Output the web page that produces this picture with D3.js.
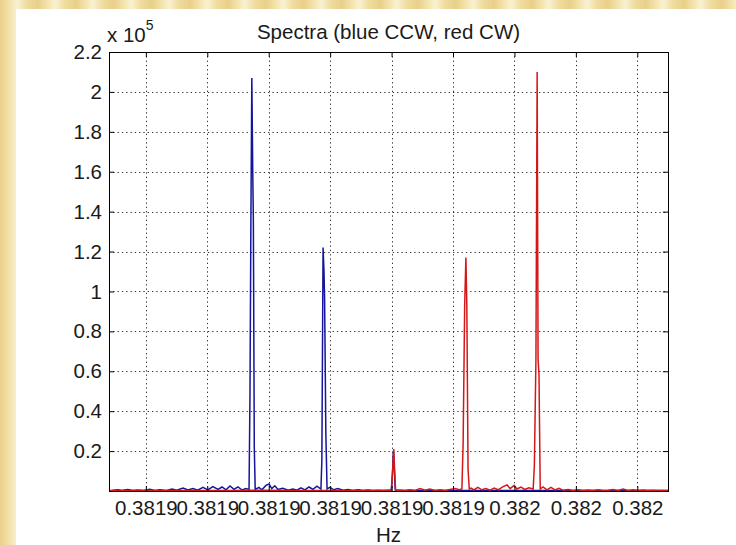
<!DOCTYPE html>
<html>
<head>
<meta charset="utf-8">
<script src="https://cdn.jsdelivr.net/npm/d3@7"></script>
<style>
  html, body { margin: 0; padding: 0; }
  body {
    width: 736px; height: 545px; overflow: hidden;
    background: repeating-linear-gradient(90deg, #e9cf8a 0px, #f2e2aa 9px, #faf1d2 17px, #f0dc9f 27px, #e9cf8a 38px);
  }
  svg { position: absolute; left: 0; top: 0; }
</style>
</head>
<body>
<div id="chart"></div>
<script>
// Spectrum plot: CCW (blue) and CW (red) components

const titleText = "Spectra (blue CCW, red CW)";
const xAxisLabel = "Hz";
const yExponent = 5;

// frequencies are offsets in µHz from 0.38194 Hz
const xDomain = [-2.2, 16.0];
const xTickOffsets = [-1, 1, 3, 5, 7, 9, 11, 13, 15];
const xTickLabels = ["0.3819", "0.3819", "0.3819", "0.3819", "0.3819", "0.3819", "0.382", "0.382", "0.382"];

// magnitudes in units of 1e5
const yDomain = [0, 2.2];
const yTicks = [0.2, 0.4, 0.6, 0.8, 1.0, 1.2, 1.4, 1.6, 1.8, 2.0, 2.2];
const yTickLabels = ["0.2", "0.4", "0.6", "0.8", "1", "1.2", "1.4", "1.6", "1.8", "2", "2.2"];

const blueCCW = [
  [-2.11, 0.003], [-1.91, 0.006], [-1.78, 0.002], [-1.59, 0.008], [-1.42, 0.003], [-1.26, 0.005],
  [-1.07, 0.002], [-0.87, 0.009], [-0.71, 0.003], [-0.54, 0.006], [-0.35, 0.002], [-0.15, 0.010],
  [0.01, 0.004], [0.21, 0.015], [0.37, 0.005], [0.53, 0.012], [0.69, 0.004], [0.86, 0.018],
  [1.02, 0.006], [1.18, 0.022], [1.35, 0.008], [1.48, 0.020], [1.61, 0.006], [1.74, 0.025],
  [1.87, 0.008], [2.00, 0.021], [2.13, 0.005], [2.26, 0.012],
  [2.36, 0.008], [2.39, 0.48], [2.42, 1.36], [2.45, 2.07], [2.48, 1.60], [2.50, 1.36], [2.53, 0.22], [2.56, 0.008],
  [2.68, 0.018], [2.78, 0.006], [2.91, 0.028], [3.01, 0.035], [3.10, 0.012], [3.20, 0.026],
  [3.30, 0.008], [3.46, 0.014], [3.63, 0.004], [3.79, 0.010], [3.92, 0.004], [4.05, 0.016],
  [4.18, 0.006], [4.31, 0.020], [4.44, 0.008], [4.57, 0.024],
  [4.70, 0.010], [4.73, 0.15], [4.76, 0.96], [4.77, 1.22], [4.80, 1.10], [4.82, 0.96], [4.86, 0.29], [4.90, 0.010],
  [4.99, 0.018], [5.12, 0.006], [5.25, 0.012], [5.42, 0.004], [5.58, 0.008], [5.74, 0.003],
  [5.91, 0.006], [6.07, 0.002], [6.23, 0.005], [6.39, 0.002], [6.56, 0.004], [6.72, 0.002], [6.88, 0.004],
  [6.99, 0.005], [7.03, 0.09], [7.06, 0.20], [7.09, 0.11], [7.12, 0.005],
  [7.40, 0.002], [8.10, 0.003], [8.90, 0.002], [9.70, 0.002], [10.60, 0.003], [11.40, 0.002],
  [12.30, 0.002], [13.20, 0.003], [14.10, 0.002], [15.00, 0.002], [16.00, 0.002]
];

const redCW = [
  [-2.20, 0.002], [-1.20, 0.003], [-0.20, 0.002], [0.80, 0.003], [1.80, 0.002], [2.80, 0.004],
  [3.80, 0.002], [4.90, 0.003], [5.90, 0.002], [6.90, 0.003],
  [7.00, 0.005], [7.04, 0.12], [7.07, 0.21], [7.10, 0.10], [7.13, 0.005],
  [7.27, 0.004], [7.44, 0.002], [7.60, 0.006], [7.76, 0.003], [7.93, 0.012], [8.09, 0.004],
  [8.25, 0.010], [8.41, 0.003], [8.58, 0.006], [8.74, 0.002], [8.90, 0.008], [9.07, 0.012], [9.20, 0.006],
  [9.29, 0.010], [9.33, 0.24], [9.38, 0.93], [9.42, 1.17], [9.45, 0.93], [9.49, 0.11], [9.53, 0.010],
  [9.59, 0.014], [9.68, 0.005], [9.81, 0.018], [9.94, 0.006], [10.07, 0.012], [10.21, 0.004],
  [10.34, 0.015], [10.47, 0.006], [10.63, 0.022], [10.76, 0.030], [10.86, 0.012], [10.99, 0.028],
  [11.08, 0.010], [11.21, 0.020], [11.34, 0.008], [11.47, 0.016],
  [11.61, 0.010], [11.65, 0.13], [11.70, 0.66], [11.74, 2.10], [11.77, 0.66], [11.80, 0.58], [11.84, 0.010],
  [11.93, 0.020], [12.06, 0.006], [12.19, 0.018], [12.32, 0.005], [12.45, 0.014], [12.58, 0.004],
  [12.75, 0.008], [12.91, 0.003], [13.07, 0.006], [13.23, 0.002], [13.40, 0.005], [13.56, 0.002],
  [13.72, 0.006], [13.89, 0.002], [14.05, 0.004], [14.21, 0.008], [14.37, 0.003], [14.54, 0.010],
  [14.70, 0.003], [14.86, 0.006], [15.02, 0.002], [15.19, 0.005], [15.35, 0.002], [15.51, 0.004],
  [15.67, 0.002], [15.87, 0.003], [16.00, 0.002]
];

const W = 736, H = 545;
const margin = { top: 52, right: 68, bottom: 54, left: 109 };
const width = W - margin.left - margin.right;
const height = H - margin.top - margin.bottom;
const font = "'Liberation Sans', Arial, sans-serif";
const fontSize = "20.5px";
const textColor = "#1a1a1a";

const svg = d3.select("#chart")
  .append("svg")
  .attr("width", W)
  .attr("height", H);

// white figure panel
svg.append("rect")
  .attr("x", 16).attr("y", 9)
  .attr("width", W - 16).attr("height", H - 9)
  .attr("fill", "#fff");

const g = svg.append("g")
  .attr("transform", `translate(${margin.left},${margin.top})`);

const x = d3.scaleLinear().domain(xDomain).range([0, width]);
const y = d3.scaleLinear().domain(yDomain).range([height, 0]);

// dotted grid
const grid = g.append("g")
  .attr("stroke", "#333")
  .attr("stroke-width", 1)
  .attr("stroke-dasharray", "1.3,3");

grid.selectAll(".vgrid")
  .data(xTickOffsets)
  .join("line")
  .attr("x1", d => Math.round(x(d)) + 0.5)
  .attr("x2", d => Math.round(x(d)) + 0.5)
  .attr("y1", 0)
  .attr("y2", height);

grid.selectAll(".hgrid")
  .data(yTicks.filter(d => d < yDomain[1]))
  .join("line")
  .attr("x1", 0)
  .attr("x2", width)
  .attr("y1", d => Math.round(y(d)) + 0.5)
  .attr("y2", d => Math.round(y(d)) + 0.5);

// spectra
const line = d3.line()
  .x(d => x(d[0]))
  .y(d => y(d[1]));

g.append("path")
  .datum(blueCCW)
  .attr("fill", "none")
  .attr("stroke", "#14149c")
  .attr("stroke-width", 1.5)
  .attr("d", line);

g.append("path")
  .datum(redCW)
  .attr("fill", "none")
  .attr("stroke", "#d41818")
  .attr("stroke-width", 1.5)
  .attr("d", line);

// axes with inward ticks on all four sides
function styleAxis(sel) {
  sel.select(".domain").remove();
  sel.selectAll(".tick line").attr("stroke", "#000");
  sel.selectAll("text")
    .style("font-family", font)
    .style("font-size", fontSize)
    .attr("fill", textColor);
}

g.append("g")
  .attr("transform", `translate(0,${height})`)
  .call(d3.axisBottom(x)
    .tickValues(xTickOffsets)
    .tickSize(-5)
    .tickPadding(9)
    .tickFormat((d, i) => xTickLabels[i]))
  .call(styleAxis);

g.append("g")
  .call(d3.axisTop(x).tickValues(xTickOffsets).tickSize(-5).tickFormat(""))
  .call(styleAxis);

g.append("g")
  .call(d3.axisLeft(y)
    .tickValues(yTicks)
    .tickSize(-5)
    .tickPadding(7)
    .tickFormat((d, i) => yTickLabels[i]))
  .call(styleAxis);

g.append("g")
  .attr("transform", `translate(${width},0)`)
  .call(d3.axisRight(y).tickValues(yTicks).tickSize(-5).tickFormat(""))
  .call(styleAxis);

// axes box
g.append("rect")
  .attr("x", 0.5).attr("y", 0.5)
  .attr("width", width).attr("height", height)
  .attr("fill", "none")
  .attr("stroke", "#000")
  .attr("stroke-width", 1);

// title, exponent and axis label
svg.append("text")
  .attr("x", margin.left + width / 2)
  .attr("y", 39)
  .attr("text-anchor", "middle")
  .style("font-family", font)
  .style("font-size", fontSize)
  .attr("fill", textColor)
  .text(titleText);

const expo = svg.append("text")
  .attr("x", 107)
  .attr("y", 42)
  .style("font-family", font)
  .style("font-size", fontSize)
  .attr("fill", textColor);
expo.append("tspan").text("x 10");
expo.append("tspan")
  .attr("dy", -12)
  .style("font-size", "14px")
  .text(yExponent);

svg.append("text")
  .attr("x", margin.left + width / 2)
  .attr("y", 542)
  .attr("text-anchor", "middle")
  .style("font-family", font)
  .style("font-size", fontSize)
  .attr("fill", textColor)
  .text(xAxisLabel);
</script>
</body>
</html>
